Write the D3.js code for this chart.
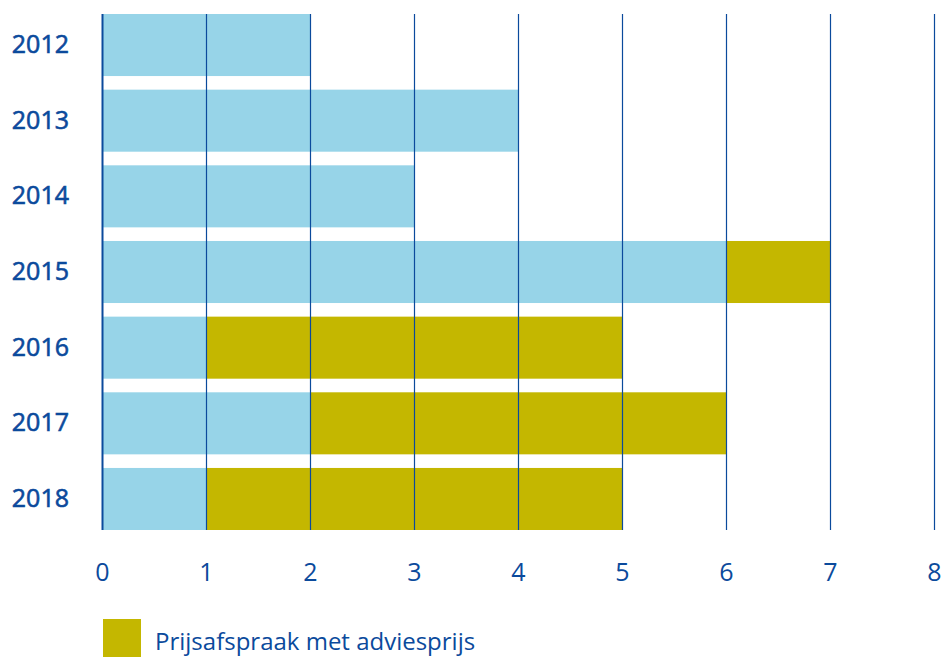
<!DOCTYPE html>
<html>
<head>
<meta charset="utf-8">
<script src="https://cdn.jsdelivr.net/npm/d3@7"></script>
<style>
  html, body { margin: 0; padding: 0; background: #ffffff; }
  svg { display: block; font-family: "Open Sans", "Noto Sans", sans-serif; }
</style>
</head>
<body>
<div id="chart"></div>
<script>
// Data
const years = ['2012', '2013', '2014', '2015', '2016', '2017', '2018'];
const zonderAdvies = [2, 4, 3, 6, 1, 2, 1];
const metAdvies = [0, 0, 0, 1, 4, 4, 4];
const xTicks = [0, 1, 2, 3, 4, 5, 6, 7, 8];
const legendLabel = 'Prijsafspraak met adviesprijs';

const COLORS = { light: '#97d4e8', olive: '#c4b700', blue: '#0b4a9c' };

const width = 943;
const height = 661;
const margin = { top: 14, right: 9, bottom: 131, left: 102 };

const svg = d3
  .select('#chart')
  .append('svg')
  .attr('width', width)
  .attr('height', height);

const x = d3
  .scaleLinear()
  .domain([0, 8])
  .range([margin.left, width - margin.right]);

const y = d3
  .scaleBand()
  .domain(years)
  .range([margin.top, height - margin.bottom])
  .paddingInner(0.18)
  .paddingOuter(0);

const rows = years.map((year, i) => ({
  year,
  a: zonderAdvies[i],
  b: metAdvies[i],
}));

const stacked = d3.stack().keys(['a', 'b'])(rows);
const fills = [COLORS.light, COLORS.olive];

// Bars
svg
  .selectAll('.series')
  .data(stacked)
  .enter()
  .append('g')
  .attr('class', 'series')
  .attr('fill', (d, i) => fills[i])
  .selectAll('rect')
  .data((d) => d)
  .enter()
  .append('rect')
  .attr('x', (d) => x(d[0]))
  .attr('y', (d) => y(d.data.year))
  .attr('width', (d) => x(d[1]) - x(d[0]))
  .attr('height', y.bandwidth());

// Vertical grid lines over the bars
svg
  .append('g')
  .selectAll('line')
  .data(xTicks)
  .enter()
  .append('line')
  .attr('x1', (d) => x(d) + 0.5)
  .attr('x2', (d) => x(d) + 0.5)
  .attr('y1', margin.top)
  .attr('y2', height - margin.bottom)
  .attr('stroke', COLORS.blue)
  .attr('stroke-width', (d) => (d === 0 ? 2 : 1.2));

// X axis labels
svg
  .append('g')
  .attr('transform', `translate(0,${height - margin.bottom})`)
  .call(d3.axisBottom(x).tickValues(xTicks).tickSize(0).tickPadding(33).tickFormat(d3.format('d')))
  .call((g) => g.select('.domain').remove())
  .selectAll('text')
  .attr('font-family', '"Open Sans", sans-serif')
  .attr('font-size', '25px')
  .attr('fill', COLORS.blue);

// Y axis labels (slightly heavier than the x labels)
svg
  .append('g')
  .attr('transform', `translate(${margin.left},0)`)
  .call(d3.axisLeft(y).tickSize(0).tickPadding(33))
  .call((g) => g.select('.domain').remove())
  .selectAll('text')
  .attr('font-family', '"Open Sans", sans-serif')
  .attr('font-size', '25px')
  .attr('fill', COLORS.blue)
  .attr('stroke', COLORS.blue)
  .attr('stroke-width', 0.6);

// Legend
const legend = svg.append('g').attr('transform', `translate(${margin.left + 1}, 619)`);

legend
  .append('rect')
  .attr('width', 38)
  .attr('height', 38)
  .attr('fill', COLORS.olive);

legend
  .append('text')
  .attr('x', 52)
  .attr('y', 31)
  .attr('font-size', '24px')
  .attr('fill', COLORS.blue)
  .text(legendLabel);
</script>
</body>
</html>
